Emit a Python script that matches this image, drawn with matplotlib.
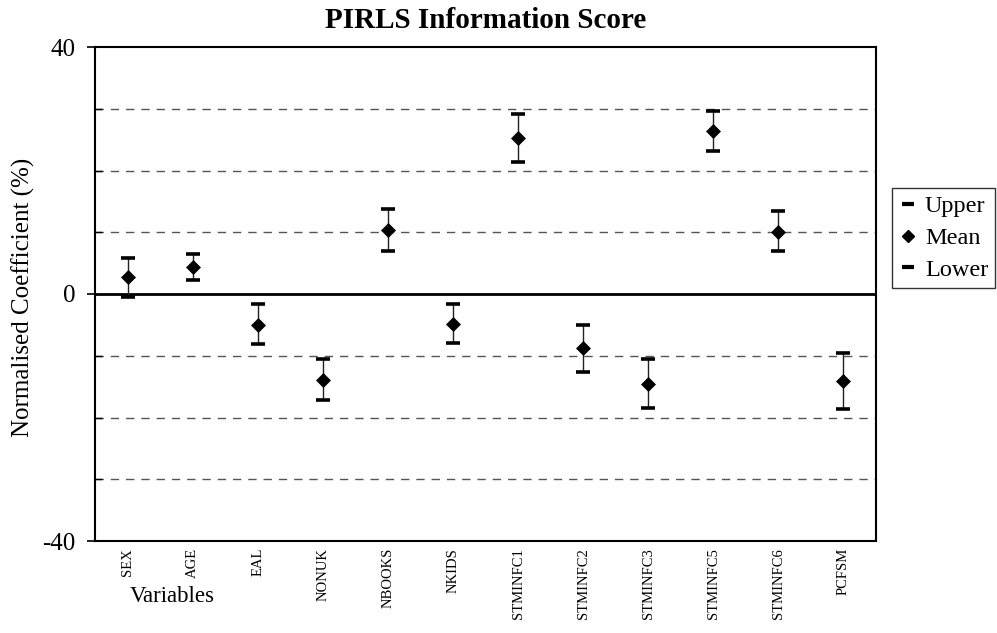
import matplotlib
matplotlib.use("Agg")
import matplotlib.pyplot as plt
from matplotlib.lines import Line2D
from matplotlib.ticker import MultipleLocator, FuncFormatter

plt.rcParams['font.family'] = ['Liberation Serif', 'DejaVu Serif']

# values
variables = ['SEX', 'AGE', 'EAL', 'NONUK', 'NBOOKS', 'NKIDS',
             'STMINFC1', 'STMINFC2', 'STMINFC3', 'STMINFC5', 'STMINFC6', 'PCFSM']
upper = [5.9, 6.5, -1.6, -10.6, 13.7, -1.6, 29.1, -5.0, -10.5, 29.7, 13.4, -9.5]
mean = [2.7, 4.3, -5.0, -14.0, 10.4, -4.8, 25.2, -8.7, -14.5, 26.4, 10.1, -14.1]
lower = [-0.5, 2.2, -8.1, -17.2, 7.0, -8.0, 21.4, -12.7, -18.4, 23.1, 7.0, -18.6]

fig = plt.figure(figsize=(9.97, 6.33), dpi=100)
ax = fig.add_axes([95/997, 1-541/633, (876-95)/997, (541-47)/633])

x = list(range(len(variables)))

# hi-lo lines
ax.vlines(x, lower, upper, color='#222222', linewidth=1, zorder=3)
ax.plot(x, upper, linestyle='none', marker='_', markersize=9.5, mew=2.6, color='black', zorder=4)
ax.plot(x, lower, linestyle='none', marker='_', markersize=9.5, mew=2.6, color='black', zorder=4)
ax.plot(x, mean, linestyle='none', marker='D', markersize=7, mew=0.5, color='black', zorder=5)

ax.axhline(0, color='black', linewidth=2, zorder=2)

ax.set_xlim(-0.5, len(variables) - 0.5)
ax.set_ylim(-40, 40)
ax.yaxis.set_major_locator(MultipleLocator(40))
ax.yaxis.set_minor_locator(MultipleLocator(10))
ax.yaxis.set_major_formatter(FuncFormatter(lambda v, p: '%d' % v))
ax.grid(which='minor', axis='y', color='#555555', linestyle=(0, (6, 5)), linewidth=1)
ax.tick_params(axis='y', which='major', direction='out', length=6, width=1.2, labelsize=18, pad=8)
ax.tick_params(axis='y', which='minor', direction='in', length=5, width=1)
ax.set_xticks(x)
ax.set_xticklabels(variables, rotation=90, fontsize=10.5)
ax.tick_params(axis='x', length=0, pad=5)
for s in ax.spines.values():
    s.set_linewidth(1.5)

ax.set_title('PIRLS Information Score', fontsize=21, fontweight='bold', pad=14)
fig.text(23/997, 1-297/633, 'Normalised Coefficient (%)', fontsize=18,
         rotation=90, ha='center', va='center')
fig.text(172/997, 1-597/633, 'Variables', fontsize=16.5, ha='center', va='center')

handles = [
    Line2D([], [], linestyle='none', marker='_', markersize=8, mew=3, color='black'),
    Line2D([], [], linestyle='none', marker='D', markersize=6, color='black'),
    Line2D([], [], linestyle='none', marker='_', markersize=8, mew=3, color='black'),
]
leg = fig.legend(handles, ['Upper', 'Mean', 'Lower'], loc='upper left',
                 bbox_to_anchor=(892/997, 1-188/633), fontsize=17.5,
                 frameon=True, fancybox=False, edgecolor='black',
                 handlelength=0.7, handletextpad=0.35, borderpad=0.3,
                 labelspacing=0.4, borderaxespad=0)
leg.get_frame().set_linewidth(1)

fig.savefig('out.png', dpi=100)
